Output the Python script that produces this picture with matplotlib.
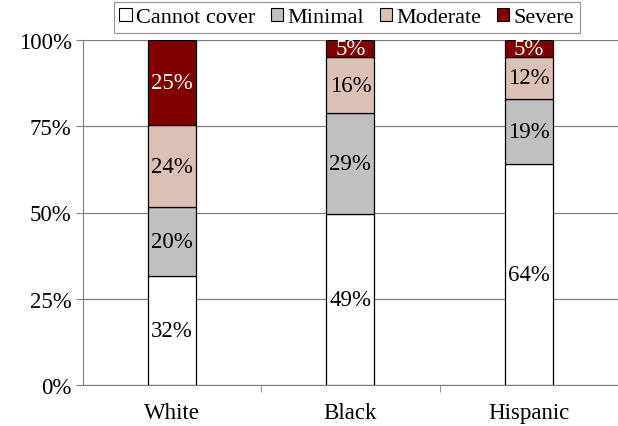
import matplotlib.pyplot as plt
import numpy as np
from matplotlib.patches import Patch

groups = ["White", "Black", "Hispanic"]
levels = ["Cannot cover", "Minimal", "Moderate", "Severe"]
cannot_cover = [32, 49, 64]
minimal = [20, 29, 19]
moderate = [24, 16, 12]
severe = [25, 5, 5]

colors = ["#FFFFFF", "#C0C0C0", "#DCBFB5", "#800000"]
text_colors = ["black", "black", "black", "white"]

plt.rcParams['font.family'] = ['Liberation Serif', 'DejaVu Serif']

data = np.array([cannot_cover, minimal, moderate, severe], dtype=float)
shares = data / data.sum(axis=0)  # 100% stacked

fig = plt.figure(figsize=(6.18, 4.27), dpi=100)
ax = fig.add_axes([0.134, 0.096, 0.866, 0.808])

x = np.arange(len(groups))
width = 0.27
bottom = np.zeros(len(groups))
for i in range(len(levels)):
    ax.bar(x, shares[i], width, bottom=bottom, color=colors[i],
           edgecolor="black", linewidth=0.9, zorder=3)
    for j in range(len(groups)):
        ax.text(x[j], bottom[j] + shares[i][j] / 2, str(int(data[i][j])) + "%",
                ha="center", va="center", fontsize=16.5, color=text_colors[i], zorder=4)
    bottom += shares[i]

ax.set_xlim(-0.5, 2.5)
ax.set_ylim(0, 1)
ax.set_yticks([0, 0.25, 0.5, 0.75, 1.0])
ax.set_yticklabels(["0%", "25%", "50%", "75%", "100%"], fontsize=16.5)
ax.set_xticks(x)
ax.set_xticklabels(groups, fontsize=16.5)
ax.set_xticks([0.5, 1.5], minor=True)
ax.tick_params(axis="x", which="major", length=0, pad=12)
ax.tick_params(axis="x", which="minor", length=5, color="#808080", direction="out")
ax.tick_params(axis="y", length=5, color="#808080", pad=3)
ax.yaxis.grid(True, color="#808080", linewidth=0.9, zorder=0)
for s in ["top", "right"]:
    ax.spines[s].set_visible(False)
for s in ["left", "bottom"]:
    ax.spines[s].set_color("#808080")

handles = [Patch(facecolor=c, edgecolor="black", linewidth=0.8) for c in colors]
leg = fig.legend(handles, levels, loc="upper center", bbox_to_anchor=(0.561, 0.993),
                 ncol=4, fontsize=16, frameon=True, fancybox=False,
                 handlelength=0.55, handleheight=0.55, handletextpad=0.2,
                 columnspacing=0.7, borderpad=0.25, borderaxespad=0)
leg.get_frame().set_edgecolor("#808080")
leg.get_frame().set_linewidth(0.9)

plt.savefig("out.png", dpi=100)
